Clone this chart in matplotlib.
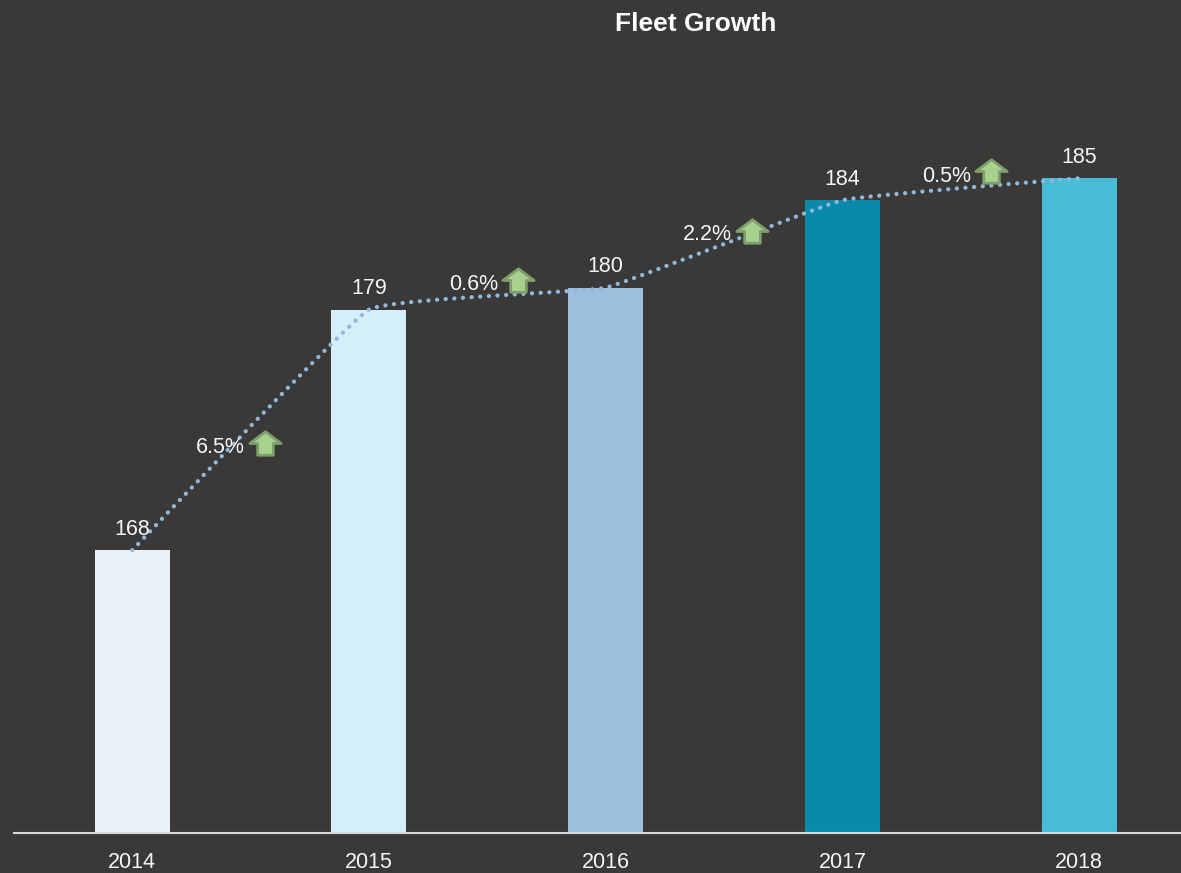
import numpy as np
import matplotlib
matplotlib.use("Agg")
import matplotlib.pyplot as plt
from matplotlib.path import Path

plt.rcParams['font.family'] = ['Liberation Sans', 'DejaVu Sans']

years = ['2014', '2015', '2016', '2017', '2018']
fleet = [168, 179, 180, 184, 185]
growth = ['6.5%', '0.6%', '2.2%', '0.5%']

bar_colors = ['#EAF1F9', '#D4EEFA', '#9DBFDD', '#0A8AAB', '#48BBD6']
bg = '#3B3938'
W, H = 1181, 873
step = 236.75
x0 = 132.2
base = 155.1
per_unit = 21.88

# where the growth labels sit, pixels of the figure
label_xy = [(220, 448), (474, 284), (707, 235), (947, 176)]
arrow_xy = [(265, 443), (518, 280), (752, 231), (991, 171)]

# arrow shape
arrow = Path([(-16, 0), (0, 12), (16, 0), (8, 0), (8, -12), (-8, -12), (-8, 0), (-16, 0)], closed=True)


def smooth(x, y, k=0.13, n=60):
    # nearly straight segments, rounded at the points
    p = np.column_stack([x, y]).astype(float)
    m = np.zeros_like(p)
    m[1:-1] = k * (p[2:] - p[:-2])
    out = []
    for i in range(len(p) - 1):
        for t in np.linspace(0, 1, n):
            out.append((2 * t ** 3 - 3 * t ** 2 + 1) * p[i] + (t ** 3 - 2 * t ** 2 + t) * m[i]
                       + (-2 * t ** 3 + 3 * t ** 2) * p[i + 1] + (t ** 3 - t ** 2) * m[i + 1])
    out = np.array(out)
    return out[:, 0], out[:, 1]


fig = plt.figure(figsize=(W / 100, H / 100), dpi=100, facecolor=bg)
ax = fig.add_axes([14 / W, 1 - 832.5 / H, (W - 14) / W, 832.5 / H], facecolor=bg)

x = np.arange(len(years))
ax.set_xlim((14 - x0) / step, (W - x0) / step)
ax.set_ylim(base, base + 832.5 / per_unit)

ax.bar(x, fleet, width=75 / step, color=bar_colors, zorder=2)
lx, ly = smooth(x, fleet)
ax.plot(lx, ly, color='#8FB8DC', lw=3.1, linestyle=(0, (0.01, 2.0)), dash_capstyle='round', zorder=3)

for i, v in enumerate(fleet):
    ax.annotate(str(v), (i, v), xytext=(0, 7.5), textcoords='offset points', ha='center', va='bottom',
                color='#F5F5F5', fontsize=15.5, zorder=4)

for i in range(len(growth)):
    fig.text(label_xy[i][0] / W, 1 - label_xy[i][1] / H, growth[i], color='#F5F5F5', fontsize=15.5,
             ha='center', va='center', zorder=5)
    ax.plot([(arrow_xy[i][0] - x0) / step],
            [base + (832.5 - arrow_xy[i][1]) / per_unit],
            marker=arrow, markersize=22.5, markerfacecolor='#A9D18E', markeredgecolor='#7F9F6C',
            markeredgewidth=2, zorder=5, linestyle='none', clip_on=False)

for s in ['top', 'left', 'right']:
    ax.spines[s].set_visible(False)
ax.spines['bottom'].set_color('#D9D9D9')
ax.spines['bottom'].set_linewidth(1.5)
ax.set_yticks([])
ax.set_xticks(x, years, color='#F5F5F5', fontsize=15.5)
ax.tick_params(axis='x', length=0, pad=14)

fig.text(696 / W, 1 - 24 / H, 'Fleet Growth', color='white', fontsize=19, fontweight='bold', ha='center', va='center')

fig.savefig('out.png', dpi=100, facecolor=bg)
